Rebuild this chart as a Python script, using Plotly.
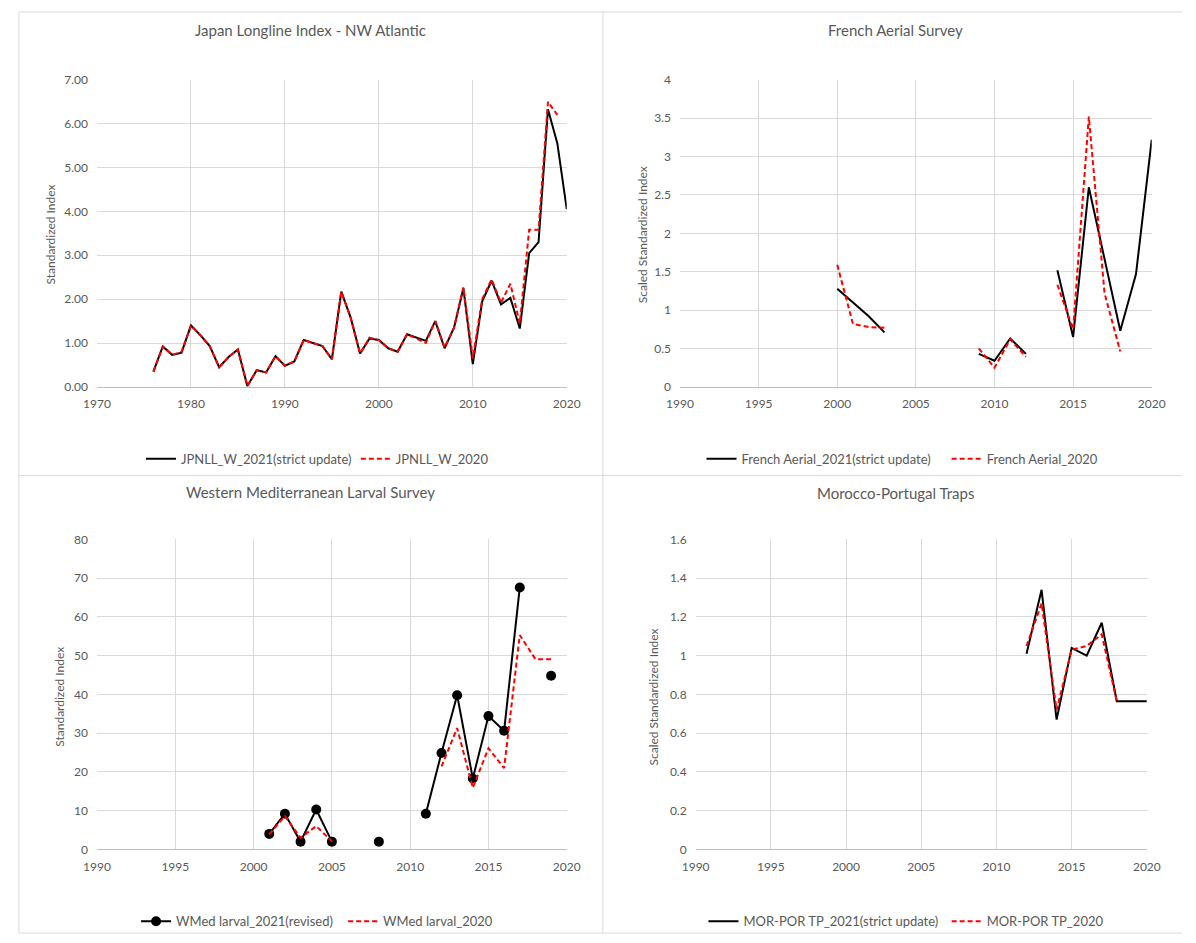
import plotly.graph_objects as go

W, H = 1196, 943

# ---------------- data ----------------
jp_years_2021 = list(range(1976, 2021))
jp_2021 = [0.35, 0.92, 0.73, 0.78, 1.40, 1.18, 0.93, 0.45, 0.68, 0.85,
           0.02, 0.38, 0.33, 0.70, 0.48, 0.58, 1.07, 1.00, 0.93, 0.63,
           2.17, 1.58, 0.76, 1.10, 1.07, 0.88, 0.80, 1.20, 1.12, 1.05,
           1.50, 0.88, 1.35, 2.25, 0.52, 1.95, 2.42, 1.88, 2.03, 1.33,
           3.05, 3.30, 6.33, 5.55, 4.05]
jp_years_2020 = list(range(1976, 2020))
jp_2020 = [0.35, 0.92, 0.73, 0.80, 1.40, 1.18, 0.93, 0.45, 0.68, 0.85,
           0.02, 0.38, 0.33, 0.70, 0.48, 0.58, 1.07, 1.00, 0.93, 0.63,
           2.17, 1.58, 0.76, 1.12, 1.07, 0.88, 0.80, 1.20, 1.10, 1.00,
           1.50, 0.90, 1.35, 2.27, 0.65, 2.00, 2.45, 1.92, 2.35, 1.45,
           3.58, 3.58, 6.50, 6.20]

fr_years = list(range(2000, 2021))
fr_2021 = [1.28, 1.10, 0.92, 0.71, None, None, None, None, None, 0.43,
           0.34, 0.63, 0.43, None, 1.52, 0.65, 2.60, 1.68, 0.73, 1.47, 3.22]
fr_years_2020 = list(range(2000, 2019))
fr_2020 = [1.59, 0.82, 0.78, 0.77, None, None, None, None, None, 0.50,
           0.25, 0.62, 0.39, None, 1.33, 0.75, 3.52, 1.22, 0.46]

wm_years = list(range(2001, 2020))
wm_2021 = [4.0, 9.2, 2.0, 10.3, 2.0, None, None, 2.0, None, None,
           9.2, 24.9, 39.8, 18.3, 34.4, 30.6, 67.6, None, 44.8]
wm_2020 = [3.9, 8.6, 3.0, 6.0, 2.1, None, None, None, None, None,
           None, 21.4, 31.3, 15.9, 26.1, 21.0, 55.3, 49.1, 49.1]

mp_years = list(range(2012, 2021))
mp_2021 = [1.01, 1.34, 0.67, 1.04, 1.00, 1.17, 0.765, 0.765, 0.765]
mp_years_2020 = list(range(2012, 2019))
mp_2020 = [1.05, 1.27, 0.72, 1.03, 1.05, 1.11, 0.765]

titles = ["Japan Longline Index - NW Atlantic", "French Aerial Survey",
          "Western Mediterranean Larval Survey", "Morocco-Portugal Traps"]
ytitles = ["Standardized Index", "Scaled Standardized Index",
           "Standardized Index", "Scaled Standardized Index"]
names = [("JPNLL_W_2021(strict update)", "JPNLL_W_2020"),
         ("French Aerial_2021(strict update)", "French Aerial_2020"),
         ("WMed larval_2021(revised)", "WMed larval_2020"),
         ("MOR-POR TP_2021(strict update)", "MOR-POR TP_2020")]

# ---------------- helpers ----------------
def px(x):
    return x / W

def py(y):
    return 1 - y / H

FONT = "Lato, 'Open Sans', sans-serif"
GRAY = "#595959"
GRID = "#d9d9d9"
RED = "#ff0000"

# plot areas in pixels: (left, right, top, bottom)
areas = [(85, 566, 73, 385), (682, 1165, 73, 385),
         (85, 566, 540, 855), (698, 1160, 540, 855)]
title_pos = [(304, 22), (903, 22), (304, 492), (903, 493)]
ytitle_pos = [(37, 230), (643, 230), (47, 700), (655, 700)]
# legend symbol start x for each of the two entries, and centre y (pixels)
legend_pos = [((135, 355), 458), ((709, 960), 458),
              ((130, 342), 928), ((711, 960), 928)]

xranges = [(1970, 2020, 10), (1990, 2020, 5), (1990, 2020, 5), (1990, 2020, 5)]
yranges = [(0, 7, 1, ".2f"), (0, 4, 0.5, ""), (0, 80, 10, ""), (0, 1.6, 0.2, "")]

series = [
    (jp_years_2021, jp_2021, jp_years_2020, jp_2020, False),
    (fr_years, fr_2021, fr_years_2020, fr_2020, False),
    (wm_years, wm_2021, wm_years, wm_2020, True),
    (mp_years, mp_2021, mp_years_2020, mp_2020, False),
]

fig = go.Figure()
layout = dict(width=W, height=H, margin=dict(l=0, r=0, t=0, b=0),
              paper_bgcolor="white", plot_bgcolor="white",
              font=dict(family=FONT, color=GRAY, size=12),
              showlegend=True)
annotations = []
shapes = []

for i in range(4):
    n = "" if i == 0 else str(i + 1)
    xa, ya = "x" + n, "y" + n
    lg_a = "legend" if i == 0 else "legend" + str(2 * i + 1)
    lg_b = "legend" + str(2 * i + 2)
    x21, y21, x20, y20, markers = series[i]
    n21, n20 = names[i]
    fig.add_trace(go.Scatter(
        x=x21, y=y21, name=n21, xaxis=xa, yaxis=ya, legend=lg_a,
        mode="lines+markers" if markers else "lines",
        line=dict(color="black", width=2),
        marker=dict(color="black", size=10) if markers else None,
        connectgaps=False))
    fig.add_trace(go.Scatter(
        x=x20, y=y20, name=n20, xaxis=xa, yaxis=ya, legend=lg_b,
        mode="lines", line=dict(color=RED, width=2, dash="5px,3px"),
        connectgaps=False))

    l, r, t, b = areas[i]
    x0, x1, dx = xranges[i]
    y0, y1, dy, fmt = yranges[i]
    layout["xaxis" + n] = dict(
        domain=[px(l), px(r)], anchor=ya, range=[x0, x1], dtick=dx, tick0=x0,
        showgrid=True, gridcolor=GRID, gridwidth=1, zeroline=False,
        showline=True, linecolor="#bfbfbf", linewidth=1,
        ticks="", ticklabelstandoff=6, fixedrange=True,
        tickfont=dict(size=12, color=GRAY, family=FONT))
    layout["yaxis" + n] = dict(
        domain=[py(b), py(t)], anchor=xa, range=[y0, y1], dtick=dy, tick0=0,
        tickformat=fmt, showgrid=True, gridcolor=GRID, gridwidth=1,
        zeroline=False, showline=False, ticks="", ticklabelstandoff=8,
        fixedrange=True, tickfont=dict(size=12, color=GRAY, family=FONT))

    tx, ty = title_pos[i]
    annotations.append(dict(text=titles[i], x=px(tx), y=py(ty), xref="paper",
                            yref="paper", showarrow=False, xanchor="center",
                            yanchor="middle",
                            font=dict(size=15, color=GRAY, family=FONT)))
    ax, ay = ytitle_pos[i]
    annotations.append(dict(text=ytitles[i], x=px(ax), y=py(ay), xref="paper",
                            yref="paper", showarrow=False, textangle=-90,
                            xanchor="center", yanchor="middle",
                            font=dict(size=12, color=GRAY, family=FONT)))
    (sa, sb), ly = legend_pos[i]
    for lg, sx in ((lg_a, sa), (lg_b, sb)):
        layout[lg] = dict(orientation="h", x=px(sx - 5), y=py(ly),
                          xanchor="left", yanchor="middle",
                          xref="paper", yref="paper", itemwidth=30,
                          bgcolor="rgba(0,0,0,0)",
                          font=dict(size=13, color=GRAY, family=FONT))

# panel borders
border = dict(color=GRID, width=1)
for (a, b_, c, d) in [(5, 4, 1196, 4), (5, 940, 1196, 940), (5, 4, 5, 940),
                      (603, 4, 603, 940), (5, 475, 1196, 475)]:
    shapes.append(dict(type="line", xref="paper", yref="paper",
                       x0=px(a), y0=py(b_), x1=px(c), y1=py(d), line=border))

layout["annotations"] = annotations
layout["shapes"] = shapes
fig.update_layout(**layout)

fig.write_html("out.html", config={"displayModeBar": False},
               post_script="document.body.style.margin='0';"
                           "document.body.style.overflow='hidden';")
